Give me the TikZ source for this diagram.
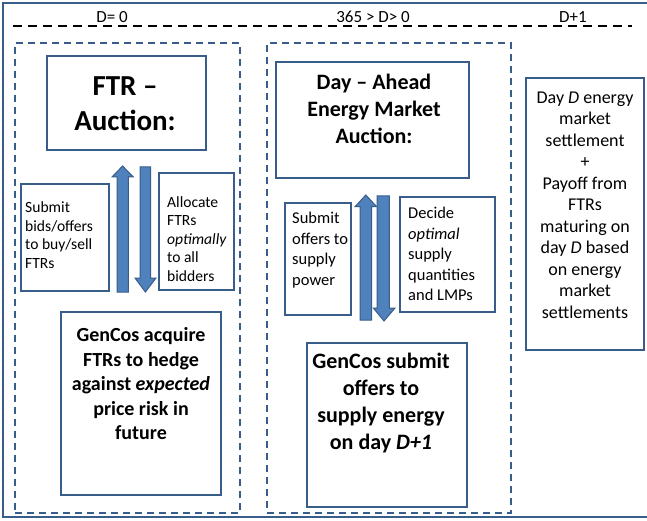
\documentclass[tikz,border=0pt]{standalone}
\usepackage{fontspec}
\setmainfont{Carlito}
\definecolor{edge}{HTML}{385D8A}
\definecolor{afill}{HTML}{4F81BD}
\begin{document}
\begin{tikzpicture}[x=1pt,y=-1pt,
  box/.style={draw=edge,line width=1.3pt,fill=white,inner sep=0pt},
  dbox/.style={draw=edge,line width=1.5pt,dash pattern=on 7pt off 5pt,inner sep=0pt},
  blockarrow/.style={fill=afill,draw=edge,line width=1pt,line join=miter},
  small/.style={font=\fontsize{15.6}{18.5}\selectfont,align=left,inner sep=0pt,anchor=west},
  smallm/.style={font=\fontsize{16.5}{20.5}\selectfont,align=left,inner sep=0pt,anchor=west},
  lbl/.style={font=\fontsize{17}{20}\selectfont,anchor=base,inner sep=0pt}]
\useasboundingbox (0,0) rectangle (647,521);
\clip (0,0) rectangle (647,521);
% outer frame
\draw[edge,line width=1.6pt] (3,3) rectangle (655,517);
% time line
\draw[black,line width=1.6pt,dash pattern=on 9pt off 6pt] (13,26) -- (632,26);
\node[lbl] (t0) at (112,23) {D= 0};
\node[lbl] (t1) at (373,23) {365 > D> 0};
\node[lbl] (t2) at (573,23) {D+1};
% dashed phase boxes
\node[dbox,minimum width=225pt,minimum height=470pt] (phase0) at (127.5,278) {};
\node[dbox,minimum width=244pt,minimum height=470pt] (phase1) at (389,278) {};
% left phase
\node[box,minimum width=159pt,minimum height=94pt] (ftr) at (126.5,103) {};
\node[font=\fontsize{29}{35}\selectfont\bfseries,align=center,inner sep=0pt] (ftrt) at (125,104) {FTR --\\Auction:};
\node[box,minimum width=88pt,minimum height=107pt] (bids) at (65,237.5) {};
\node[small] (bidst) at (25,235) {Submit\\bids/offers\\to buy/sell\\FTRs};
\node[box,minimum width=75pt,minimum height=117pt] (alloc) at (196.5,231.5) {};
\node[small] (alloct) at (167,239) {Allocate\\FTRs\\\textit{optimally}\\to all\\bidders};
\filldraw[blockarrow] (117,292) -- (117,177) -- (112,177) -- (122.6,166) -- (133.3,177) -- (128.3,177) -- (128.3,292) -- cycle;
\filldraw[blockarrow] (140,167) -- (150.7,167) -- (150.7,278) -- (156,278) -- (145.4,292) -- (135,278) -- (140,278) -- cycle;
\node[box,minimum width=160pt,minimum height=183pt] (acq) at (141,403.5) {};
\node[font=\fontsize{20}{24.5}\selectfont\bfseries,align=center,inner sep=0pt] (acqt) at (141,384) {GenCos acquire\\FTRs to hedge\\against \textit{expected}\\price risk in\\future};
% middle phase
\node[box,minimum width=193pt,minimum height=116pt] (da) at (372.5,120) {};
\node[font=\fontsize{22}{27}\selectfont\bfseries,align=center,inner sep=0pt] (dat) at (374,109) {Day -- Ahead\\Energy Market\\Auction:};
\node[box,minimum width=66pt,minimum height=112pt] (offers) at (318,259) {};
\node[smallm] (offerst) at (292,250) {Submit\\offers to\\supply\\power};
\node[box,minimum width=95pt,minimum height=115pt] (decide) at (447.5,254.5) {};
\node[smallm] (decidet) at (408,254) {Decide\\\textit{optimal}\\supply\\quantities\\and LMPs};
\filldraw[blockarrow] (360,320) -- (360,206.7) -- (355,206.7) -- (365.8,195) -- (376.7,206.7) -- (371.7,206.7) -- (371.7,320) -- cycle;
\filldraw[blockarrow] (377,196) -- (389.3,196) -- (389.3,308) -- (395,308) -- (384,321) -- (373.3,308) -- (377,308) -- cycle;
\node[box,minimum width=160pt,minimum height=164pt] (sub) at (387,425) {};
\node[font=\fontsize{22}{27}\selectfont\bfseries,align=center,inner sep=0pt] (subt) at (381,403) {GenCos submit\\offers to\\supply energy\\on day \textit{D+1}};
% right phase
\node[box,minimum width=118pt,minimum height=272pt] (settle) at (585,214) {};
\node[font=\fontsize{18}{21.5}\selectfont,align=center,inner sep=0pt] (settlet) at (585,205) {Day \textit{D} energy\\market\\settlement\\+\\Payoff from\\FTRs\\maturing on\\day \textit{D} based\\on energy\\market\\settlements};
\end{tikzpicture}
\end{document}
